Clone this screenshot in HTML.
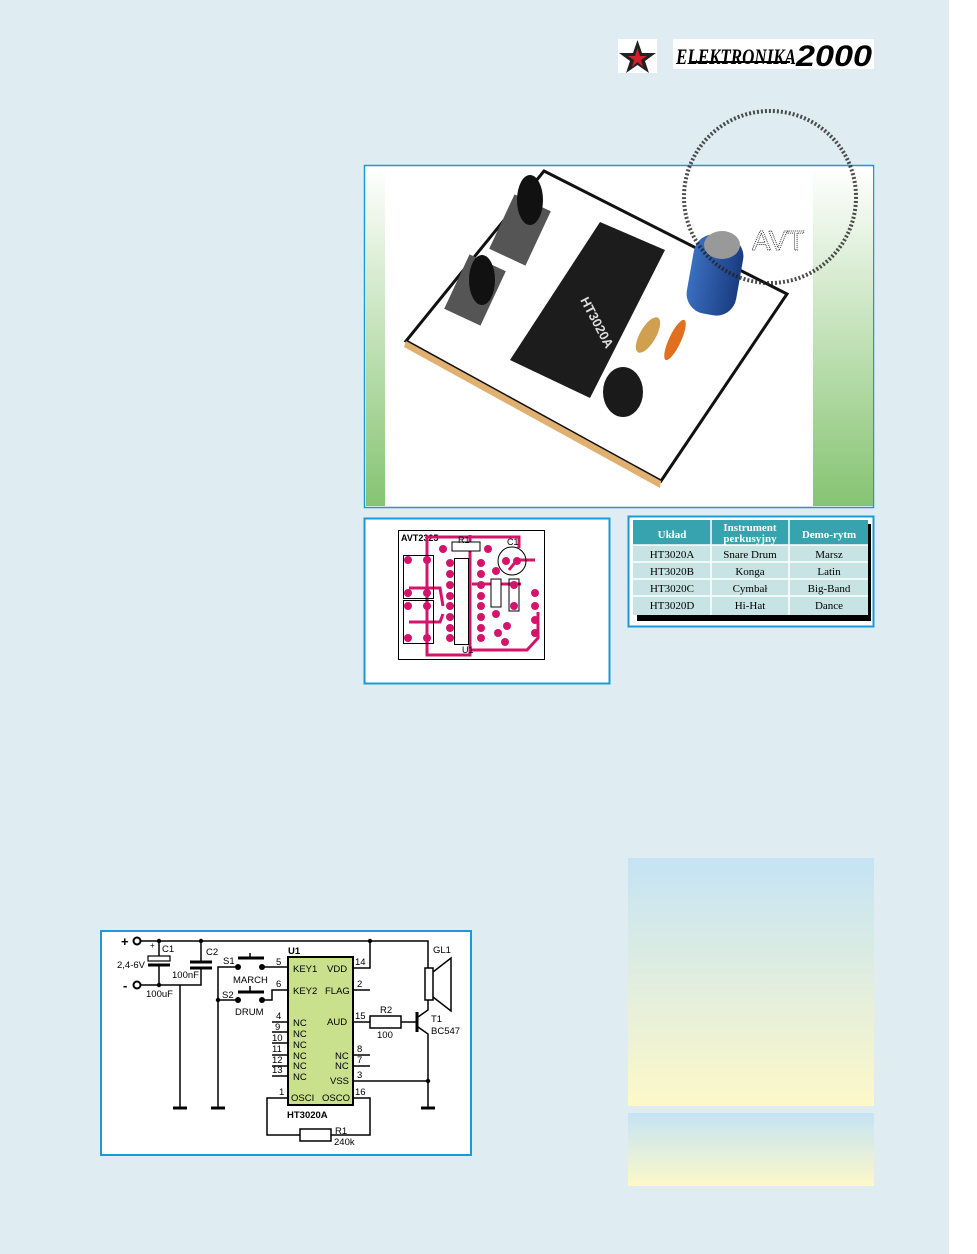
<!DOCTYPE html>
<html><head><meta charset="utf-8"><style>
html,body{margin:0;padding:0}
body{width:977px;height:1254px;background:#dfedf2;position:relative;overflow:hidden;font-family:"Liberation Sans",sans-serif}
</style></head><body>
<div style="position:absolute;left:949px;top:0;width:28px;height:1254px;background:#fff"></div>
<svg width="977" height="1254" style="position:absolute;left:0;top:0" xmlns="http://www.w3.org/2000/svg">
<defs>
<linearGradient id="gr" x1="0" y1="0" x2="0" y2="1"><stop offset="0" stop-color="#fff"/><stop offset="1" stop-color="#86c472"/></linearGradient>
<linearGradient id="by" x1="0" y1="0" x2="0" y2="1"><stop offset="0" stop-color="#c5e3f5"/><stop offset="1" stop-color="#fdf8c8"/></linearGradient>
<linearGradient id="cap" x1="0" y1="0" x2="1" y2="0"><stop offset="0" stop-color="#3a6fc0"/><stop offset="1" stop-color="#1a3c80"/></linearGradient>
</defs>
<!-- logo -->
<rect x="618" y="39" width="39" height="34" fill="#fff"/>
<polygon points="637.5,40 642,53 656,53 645,61 649,73 637.5,65 626,73 630,61 619,53 633,53" fill="#222"/>
<polygon points="637.5,48 640,56 647,56 641,60 643,67 637.5,62 632,67 634,60 628,56 635,56" fill="#d0202a"/>
<rect x="673" y="39" width="201" height="30" fill="#fff"/>
<text x="676" y="64" font-family="Liberation Serif" font-weight="bold" font-style="italic" font-size="22" fill="#000" textLength="120" lengthAdjust="spacingAndGlyphs">ELEKTRONIKA</text>
<text x="796" y="66" font-family="Liberation Sans" font-weight="bold" font-style="italic" font-size="30" fill="#000" textLength="76" lengthAdjust="spacingAndGlyphs">2000</text>
<line x1="690" y1="62" x2="790" y2="62" stroke="#000" stroke-width="2"/>
<!-- photo -->
<rect x="364.5" y="165.5" width="509" height="342" fill="#fff" stroke="#1a9ad6" stroke-width="1.5"/>
<rect x="366" y="167" width="19" height="339" fill="url(#gr)"/>
<rect x="813" y="167" width="60" height="339" fill="url(#gr)"/>
<polygon points="544,171 787,294 661,481 406,341" fill="#fff" stroke="#111" stroke-width="3"/>
<polygon points="406,341 661,481 660,488 404,347" fill="#e0b070"/>
<polygon points="600,222 665,250 590,398 510,360" fill="#1c1c1c"/>
<text x="580" y="300" transform="rotate(62 580 300)" font-size="13" fill="#ddd" font-weight="bold">HT3020A</text>
<rect x="500" y="200" width="40" height="60" fill="#555" transform="rotate(25 520 230)"/>
<rect x="455" y="260" width="40" height="60" fill="#555" transform="rotate(25 475 290)"/>
<ellipse cx="530" cy="200" rx="13" ry="25" fill="#111"/>
<ellipse cx="482" cy="280" rx="13" ry="25" fill="#111"/>
<rect x="690" y="235" width="50" height="80" rx="20" fill="url(#cap)" transform="rotate(10 715 275)"/>
<ellipse cx="722" cy="245" rx="18" ry="14" fill="#999"/>
<ellipse cx="623" cy="392" rx="20" ry="25" fill="#1a1a1a"/>
<ellipse cx="648" cy="335" rx="8" ry="20" fill="#d0a050" transform="rotate(30 648 335)"/>
<ellipse cx="675" cy="340" rx="6" ry="22" fill="#e07020" transform="rotate(25 675 340)"/>
<ellipse cx="770" cy="197" rx="86" ry="86" fill="none" stroke="#222" stroke-width="4" stroke-dasharray="2 2" opacity="0.8"/>
<text x="752" y="250" font-size="28" fill="none" stroke="#333" stroke-dasharray="1 1">AVT</text>
<!-- PCB panel -->
<rect x="364.5" y="518.5" width="245" height="165" fill="#fff" stroke="#1a9ad6" stroke-width="2"/>
<rect x="398.5" y="530.5" width="146" height="129" fill="#fff" stroke="#000"/>
<text x="401" y="541" font-size="9" font-weight="bold">AVT2325</text>
<g fill="none" stroke="#d4146a" stroke-width="3">
<polyline points="427,542 427,537 519,537 519,548"/>
<polyline points="427,542 427,655 470,655 470,535"/>
<polyline points="472,584 521,584"/>
<polyline points="470,650 527,650 538,638 538,612"/>
<polyline points="409,588 440,588 443,606"/>
<polyline points="409,622 440,622 443,614"/>
<polyline points="509,570 517,560 535,560"/>
</g>
<rect x="403.5" y="555.5" width="30" height="43" fill="none" stroke="#000"/>
<rect x="403.5" y="600.5" width="30" height="43" fill="none" stroke="#000"/>
<rect x="454.5" y="558.5" width="14" height="86" fill="none" stroke="#000"/>
<rect x="452" y="542" width="28" height="9" fill="#fff" stroke="#000"/>
<rect x="491" y="579" width="10" height="28" fill="#fff" stroke="#000"/>
<rect x="509" y="579" width="10" height="32" fill="none" stroke="#000"/>
<circle cx="512" cy="561" r="14" fill="none" stroke="#000"/>
<g fill="#d4146a">
<circle cx="443" cy="549" r="4"/><circle cx="488" cy="549" r="4"/>
<circle cx="408" cy="560" r="4"/><circle cx="427" cy="560" r="4"/><circle cx="408" cy="593" r="4"/><circle cx="427" cy="593" r="4"/>
<circle cx="408" cy="606" r="4"/><circle cx="427" cy="606" r="4"/><circle cx="408" cy="638" r="4"/><circle cx="427" cy="638" r="4"/>
<circle cx="450" cy="563" r="4"/><circle cx="450" cy="574" r="4"/><circle cx="450" cy="585" r="4"/><circle cx="450" cy="596" r="4"/><circle cx="450" cy="606" r="4"/><circle cx="450" cy="617" r="4"/><circle cx="450" cy="628" r="4"/><circle cx="450" cy="638" r="4"/>
<circle cx="481" cy="563" r="4"/><circle cx="481" cy="574" r="4"/><circle cx="481" cy="585" r="4"/><circle cx="481" cy="596" r="4"/><circle cx="481" cy="606" r="4"/><circle cx="481" cy="617" r="4"/><circle cx="481" cy="628" r="4"/><circle cx="481" cy="638" r="4"/>
<circle cx="506" cy="561" r="4"/><circle cx="517" cy="561" r="4"/><circle cx="496" cy="571" r="4"/><circle cx="496" cy="614" r="4"/>
<circle cx="514" cy="585" r="4"/><circle cx="514" cy="606" r="4"/><circle cx="535" cy="593" r="4"/><circle cx="535" cy="606" r="4"/><circle cx="535" cy="620" r="4"/><circle cx="535" cy="633" r="4"/>
<circle cx="507" cy="626" r="4"/><circle cx="498" cy="633" r="4"/><circle cx="505" cy="642" r="4"/>
</g>
<text x="458" y="543" font-size="9">R1</text><text x="507" y="545" font-size="9">C1</text>
<text x="462" y="653" font-size="9">U1</text>
<!-- table -->
<rect x="628.5" y="516.5" width="245" height="110" fill="#fff" stroke="#1a9ad6" stroke-width="2"/>
<rect x="637" y="524" width="234" height="97" fill="#000"/>
<rect x="633" y="520" width="235" height="95" fill="#c7e3e3"/>
<rect x="633" y="520" width="235" height="25" fill="#36a3ae"/>
<g stroke="#fff" stroke-width="1.5"><line x1="711" y1="520" x2="711" y2="615"/><line x1="789" y1="520" x2="789" y2="615"/>
<line x1="633" y1="545" x2="868" y2="545"/><line x1="633" y1="562" x2="868" y2="562"/><line x1="633" y1="579" x2="868" y2="579"/><line x1="633" y1="596" x2="868" y2="596"/></g>
<g font-family="Liberation Serif" font-size="11" text-anchor="middle">
<g fill="#fff" font-weight="bold"><text x="672" y="538">Układ</text><text x="750" y="531">Instrument</text><text x="750" y="542">perkusyjny</text><text x="829" y="538">Demo-rytm</text></g>
<text x="672" y="558">HT3020A</text><text x="750" y="558">Snare Drum</text><text x="829" y="558">Marsz</text>
<text x="672" y="575">HT3020B</text><text x="750" y="575">Konga</text><text x="829" y="575">Latin</text>
<text x="672" y="592">HT3020C</text><text x="750" y="592">Cymbał</text><text x="829" y="592">Big-Band</text>
<text x="672" y="609">HT3020D</text><text x="750" y="609">Hi-Hat</text><text x="829" y="609">Dance</text>
</g>
<!-- gradient boxes -->
<rect x="628" y="858" width="246" height="248" fill="url(#by)"/>
<rect x="628" y="1113" width="246" height="73" fill="url(#by)"/>
<!-- schematic -->
<rect x="101" y="931" width="370" height="224" fill="#fff" stroke="#1a9ad6" stroke-width="2"/>
<rect x="288" y="957" width="65" height="148" fill="#c9e08c" stroke="#000" stroke-width="2"/>
<g fill="none" stroke="#000" stroke-width="1.5">
<polyline points="141,941 428,941 428,968"/>
<polyline points="141,985 201,985 201,968"/>
<line x1="201" y1="941" x2="201" y2="962"/>
<line x1="159" y1="941" x2="159" y2="958"/><line x1="159" y1="966" x2="159" y2="985"/>
<line x1="180" y1="985" x2="180" y2="1108"/>
<polyline points="238,967 218,967 218,1108"/>
<line x1="218" y1="1000" x2="238" y2="1000"/>
<line x1="262" y1="967" x2="288" y2="967"/>
<polyline points="262,1000 272,1000 272,990 288,990"/>
<line x1="272" y1="1022" x2="288" y2="1022"/><line x1="272" y1="1032" x2="288" y2="1032"/><line x1="272" y1="1043" x2="288" y2="1043"/><line x1="272" y1="1055" x2="288" y2="1055"/><line x1="272" y1="1066" x2="288" y2="1066"/><line x1="272" y1="1076" x2="288" y2="1076"/>
<polyline points="288,1098 267,1098 267,1135 300,1135"/>
<polyline points="331,1135 370,1135 370,1098 353,1098"/>
<polyline points="353,968 370,968 370,941"/>
<line x1="353" y1="990" x2="370" y2="990"/>
<line x1="353" y1="1022" x2="370" y2="1022"/><line x1="401" y1="1022" x2="417" y2="1022"/>
<line x1="353" y1="1055" x2="370" y2="1055"/><line x1="353" y1="1066" x2="370" y2="1066"/>
<polyline points="353,1081 428,1081 428,1108"/>
<polyline points="418,1017 428,1010 428,1000"/>
<polyline points="418,1027 428,1034 428,1081"/>
<polyline points="433,972 451,958 451,1011 433,997"/>
<line x1="250" y1="953" x2="250" y2="958"/><line x1="250" y1="986" x2="250" y2="991"/>
</g>
<g stroke="#000" stroke-width="3">
<line x1="238" y1="958" x2="264" y2="958"/><line x1="238" y1="992" x2="264" y2="992"/>
<line x1="148" y1="965" x2="170" y2="965"/>
<line x1="190" y1="962" x2="212" y2="962"/><line x1="190" y1="968" x2="212" y2="968"/>
<line x1="417" y1="1012" x2="417" y2="1032"/>
<line x1="173" y1="1108" x2="187" y2="1108"/><line x1="211" y1="1108" x2="225" y2="1108"/><line x1="421" y1="1108" x2="435" y2="1108"/>
</g>
<rect x="148" y="956" width="22" height="5" fill="#fff" stroke="#000" stroke-width="1.2"/>
<rect x="370" y="1016" width="31" height="12" fill="#fff" stroke="#000" stroke-width="1.5"/>
<rect x="300" y="1129" width="31" height="12" fill="#fff" stroke="#000" stroke-width="1.5"/>
<rect x="425" y="968" width="8" height="32" fill="#fff" stroke="#000" stroke-width="1.5"/>
<g fill="#000"><circle cx="159" cy="941" r="2.2"/><circle cx="201" cy="941" r="2.2"/><circle cx="370" cy="941" r="2.2"/><circle cx="159" cy="985" r="2.2"/><circle cx="218" cy="1000" r="2.2"/><circle cx="428" cy="1081" r="2.2"/>
<circle cx="238" cy="967" r="3"/><circle cx="262" cy="967" r="3"/><circle cx="238" cy="1000" r="3"/><circle cx="262" cy="1000" r="3"/></g>
<circle cx="137" cy="941" r="3.5" fill="#fff" stroke="#000" stroke-width="2"/>
<circle cx="137" cy="985" r="3.5" fill="#fff" stroke="#000" stroke-width="2"/>
<g font-size="9.5" fill="#000">
<text x="121" y="946" font-weight="bold" font-size="13">+</text><text x="123" y="990" font-weight="bold" font-size="13">-</text>
<text x="150" y="948" font-size="8">+</text><text x="162" y="952">C1</text><text x="206" y="955">C2</text>
<text x="117" y="968">2,4-6V</text><text x="172" y="978">100nF</text><text x="146" y="997">100uF</text>
<text x="223" y="964">S1</text><text x="233" y="983">MARCH</text><text x="222" y="998">S2</text><text x="235" y="1015">DRUM</text>
<text x="288" y="954" font-weight="bold">U1</text>
<text x="293" y="972">KEY1</text><text x="327" y="972">VDD</text><text x="293" y="994">KEY2</text><text x="325" y="994">FLAG</text>
<text x="327" y="1025">AUD</text>
<text x="293" y="1026">NC</text><text x="293" y="1037">NC</text><text x="293" y="1048">NC</text><text x="293" y="1059">NC</text><text x="293" y="1069">NC</text><text x="293" y="1080">NC</text>
<text x="335" y="1059">NC</text><text x="335" y="1069">NC</text><text x="330" y="1084">VSS</text>
<text x="291" y="1101">OSCI</text><text x="322" y="1101">OSCO</text>
<text x="287" y="1118" font-weight="bold">HT3020A</text>
<text x="276" y="965">5</text><text x="276" y="987">6</text><text x="276" y="1019">4</text><text x="275" y="1030">9</text><text x="272" y="1041">10</text><text x="272" y="1052">11</text><text x="272" y="1063">12</text><text x="272" y="1073">13</text><text x="279" y="1095">1</text>
<text x="355" y="965">14</text><text x="357" y="987">2</text><text x="355" y="1019">15</text><text x="357" y="1052">8</text><text x="357" y="1063">7</text><text x="357" y="1078">3</text><text x="355" y="1095">16</text>
<text x="380" y="1013">R2</text><text x="377" y="1038">100</text>
<text x="433" y="953">GL1</text><text x="431" y="1022">T1</text><text x="431" y="1034">BC547</text>
<text x="335" y="1134">R1</text><text x="334" y="1145">240k</text>
</g>
</svg>
</body></html>
